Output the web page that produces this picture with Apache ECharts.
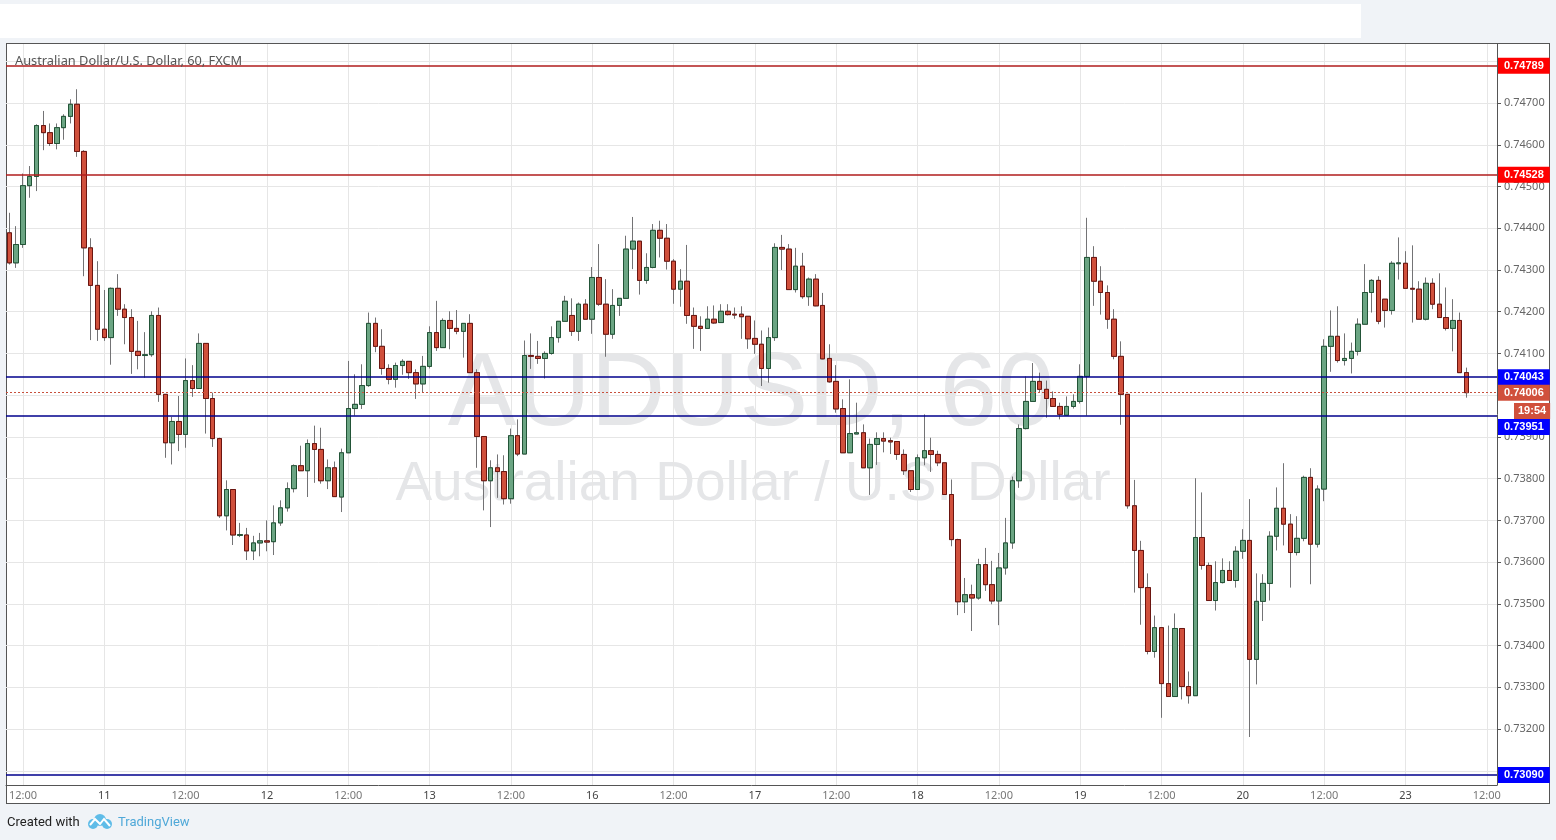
<!DOCTYPE html>
<html>
<head>
<meta charset="utf-8">
<title>AUDUSD 60</title>
<script src="https://cdn.jsdelivr.net/npm/echarts@6/dist/echarts.min.js"></script>
<style>
  html, body { margin: 0; padding: 0; background: #f0f3f7; overflow: hidden; }
  #strip { position: absolute; left: 0; top: 4px; width: 1361px; height: 34px; background: #fff; }
  #frame { position: absolute; left: 6px; top: 43px; width: 1542px; height: 759px; background: #fff; border: 1px solid #555; }
  #chart { position: absolute; left: 0; top: 0; width: 1556px; height: 840px; }
</style>
</head>
<body>
<div id="strip"></div>
<div id="frame"></div>
<div id="chart"></div>
<script>
// prices in 1/100000 of a dollar, one entry per hourly candle
const opens = [
  74389,74317,74361,74502,74524,74646,74629,74603,74641,74668,74697,74584,
  74353,74263,74158,74138,74256,74206,74186,74105,74095,74097,74191,74002,
  73886,73937,73906,74035,74016,74124,73992,73896,73711,73774,73664,73665,
  73627,73646,73651,73649,73694,73730,73776,73831,73819,73884,73870,73795,
  73826,73756,73862,73968,73978,74023,74172,74117,74064,74038,74071,74081,
  74054,74027,74069,74150,74114,74179,74160,74153,74172,74054,73901,73795,
  73826,73817,73752,73903,73859,74095,74093,74088,74100,74138,74177,74191,
  74153,74218,74182,74282,74218,74146,74215,74232,74350,74369,74275,74306,
  74395,74376,74321,74254,74273,74191,74165,74160,74182,74174,74201,74194,
  74194,74189,74136,74122,74064,74138,74354,74350,74253,74309,74236,74278,
  74215,74088,74033,73968,73862,73907,73910,73826,73882,73896,73891,73889,
  73858,73819,73774,73850,73867,73858,73838,73762,73654,73505,73522,73514,
  73594,73546,73507,73586,73646,73795,73920,73985,74033,74014,73992,73973,
  73952,73973,73985,74045,74330,74273,74246,74182,74093,74002,73735,73628,
  73539,73386,73443,73309,73278,73441,73302,73280,73659,73592,73508,73551,
  73580,73556,73626,73652,73367,73506,73549,73662,73729,73691,73623,73657,
  73803,73643,73775,74117,74141,74083,74088,74105,74170,74246,74275,74230,
  74203,74315,74316,74256,74254,74182,74268,74218,74186,74160,74179,74054
];
const closes = [
  74317,74361,74502,74524,74646,74629,74603,74641,74668,74697,74584,74353,
  74263,74158,74138,74256,74206,74186,74105,74095,74097,74191,74002,73886,
  73937,73906,74035,74016,74124,73992,73896,73711,73774,73665,73666,73627,
  73646,73651,73648,73694,73730,73776,73831,73819,73884,73870,73795,73826,
  73757,73862,73968,73978,74023,74172,74117,74064,74038,74071,74081,74054,
  74027,74069,74150,74114,74179,74160,74153,74172,74054,73901,73795,73826,
  73817,73752,73903,73859,74095,74093,74088,74100,74138,74177,74225,74153,
  74218,74182,74282,74218,74146,74215,74232,74350,74369,74275,74306,74395,
  74376,74321,74254,74273,74191,74165,74160,74182,74173,74201,74193,74192,
  74188,74135,74122,74064,74138,74354,74350,74253,74309,74236,74278,74214,
  74087,74032,73967,73862,73908,73910,73826,73882,73896,73890,73888,73858,
  73819,73774,73850,73867,73858,73838,73762,73654,73505,73522,73514,73594,
  73546,73507,73586,73646,73795,73920,73985,74033,74014,73992,73973,73954,
  73973,73985,74045,74330,74273,74246,74182,74093,74002,73735,73628,73539,
  73386,73443,73309,73278,73441,73302,73280,73659,73592,73508,73551,73580,
  73556,73626,73652,73367,73506,73549,73662,73729,73691,73623,73657,73803,
  73643,73775,74117,74141,74083,74088,74105,74170,74246,74275,74177,74203,
  74316,74317,74256,74254,74182,74268,74218,74186,74160,74179,74054,74006
];
const lows = [
  74313,74305,74353,74473,74489,74587,74597,74589,74612,74651,74571,74285,
  74132,74130,74130,74073,74190,74122,74051,74062,74042,74092,73984,73850,
  73834,73866,73874,73996,74016,73908,73876,73706,73676,73641,73660,73605,
  73605,73614,73626,73617,73687,73721,73767,73819,73756,73790,73788,73775,
  73757,73720,73862,73951,73967,74020,74103,74049,74026,74018,74049,74039,
  73991,74006,74064,74106,74114,74110,74146,74090,74054,73826,73724,73684,
  73754,73738,73740,73854,73859,74063,74075,74040,74097,74126,74177,74142,
  74130,74182,74147,74214,74092,74135,74190,74232,74302,74241,74267,74304,
  74330,74301,74219,74212,74171,74111,74106,74160,74171,74174,74191,74183,
  74135,74111,74099,74022,74030,74130,74300,74253,74246,74231,74214,74213,
  74086,74030,73958,73862,73862,73907,73826,73761,73833,73863,73859,73845,
  73809,73768,73774,73832,73816,73830,73762,73638,73473,73478,73435,73510,
  73531,73499,73449,73570,73632,73778,73918,73985,74006,73946,73973,73942,
  73952,73968,73980,73951,74214,74193,74159,74086,73929,73728,73527,73450,
  73379,73371,73227,73278,73278,73271,73261,73280,73582,73508,73484,73549,
  73556,73539,73608,73181,73307,73459,73508,73628,73640,73539,73616,73650,
  73547,73635,73746,74056,74078,74071,74052,74095,74170,74198,74170,74162,
  74193,74277,74256,74174,74182,74179,74206,74186,74155,74105,74054,73994
];
const highs = [
  74437,74405,74531,74549,74649,74681,74651,74651,74673,74709,74733,74587,
  74376,74321,74252,74258,74290,74218,74206,74178,74151,74201,74210,74002,
  73948,73998,74088,74072,74148,74124,74006,73898,73796,73774,73694,73682,
  73663,73670,73700,73736,73748,73791,73834,73879,73894,73927,73922,73846,
  73841,73872,74082,74050,74074,74198,74186,74158,74074,74078,74086,74081,
  74062,74094,74165,74226,74184,74201,74204,74172,74194,74062,73901,73844,
  73858,73856,73920,73942,74131,74148,74130,74105,74165,74177,74238,74232,
  74222,74230,74307,74362,74278,74254,74232,74382,74427,74369,74340,74410,
  74418,74410,74326,74302,74360,74210,74189,74213,74215,74218,74218,74210,
  74213,74189,74179,74155,74162,74364,74384,74362,74353,74341,74282,74290,
  74245,74122,74072,73990,74038,73982,73930,73896,73911,73911,73898,73889,
  73870,73819,73858,73954,73898,73867,73838,73798,73656,73562,73546,73608,
  73634,73603,73622,73706,73805,73930,74045,74077,74054,74035,74009,73982,
  73997,74002,74074,74425,74357,74309,74263,74206,74129,74002,73797,73651,
  73573,73472,73443,73448,73477,73441,73338,73801,73767,73599,73602,73609,
  73602,73638,73679,73751,73573,73571,73674,73779,73837,73715,73710,73807,
  73825,73784,74134,74203,74213,74148,74126,74184,74314,74278,74285,74230,
  74321,74378,74345,74359,74273,74282,74280,74292,74258,74230,74198,74066
];

const slotCount = 220;              // candles plus the empty slots on the right
const firstTickSlot = 2;
const tickEvery = 12;
const dateTicks = ["12:00","11","12:00","12","12:00","13","12:00","16","12:00","17",
  "12:00","18","12:00","19","12:00","20","12:00","23","12:00"];
const priceTicks = [0.731,0.732,0.733,0.734,0.735,0.736,0.737,0.738,0.739,0.74,
  0.741,0.742,0.743,0.744,0.745,0.746,0.747,0.748];
// 0.731 and 0.748 have a grid line but their labels are under the level tags
const priceLabels = priceTicks.slice(1, -1);

const redLevels = [0.74789, 0.74528];
const blueLevels = [0.74043, 0.73951, 0.7309];
const lastPrice = 0.74006;
const countdown = "19:54";
// the 0.73951 tag and the countdown sit below their lines so nothing overlaps
const shiftedBlueTagAt = 0.73924;
const countdownAt = 0.73962;

const RED = "#d0503c", RED_EDGE = "#6b1510";
const GREEN = "#6ba583", GREEN_EDGE = "#225437";
const font = "'Noto Sans', sans-serif";

const categories = [];
for (let i = 0; i < slotCount; i++) {
  const k = (i - firstTickSlot) / tickEvery;
  categories.push(Number.isInteger(k) && dateTicks[k] ? dateTicks[k] : "");
}
const isTick = (i) => (i - firstTickSlot) % tickEvery === 0;

const fullCandles = opens.map((o, i) => [o / 1e5, closes[i] / 1e5, lows[i] / 1e5, highs[i] / 1e5]);
const bodyOnly = opens.map((o, i) => {
  const c = closes[i];
  return [o / 1e5, c / 1e5, Math.min(o, c) / 1e5, Math.max(o, c) / 1e5];
});

// one empty line series per level, it only carries the markLine
function levelSeries(value, lineStyle, tag) {
  return {
    type: "line",
    data: [],
    z: 1,
    markLine: {
      silent: true,
      symbol: "none",
      animation: false,
      precision: 6,
      lineStyle: lineStyle,
      label: tag ? {
        show: true,
        position: "end",
        distance: tag.distance || 1,
        formatter: tag.text,
        color: "#fff",
        fontFamily: "'Liberation Sans'",
        fontSize: 11,
        fontWeight: "bold",
        lineHeight: 12,
        backgroundColor: tag.bg,
        padding: tag.padding || [2, 6],
        align: "left",
      } : { show: false },
      data: [{ yAxis: value }],
    },
  };
}

const hidden = { color: "transparent", width: 0 };
const redLine = { color: "#b01c1c", width: 1.5, type: "solid" };
const blueLine = { color: "#00008c", width: 1.5, type: "solid" };
const levels = [
  ...redLevels.map((v) => levelSeries(v, redLine, { text: v.toFixed(5), bg: "#ff0000" })),
  levelSeries(blueLevels[0], blueLine, { text: blueLevels[0].toFixed(5), bg: "#0000ff" }),
  levelSeries(blueLevels[1], blueLine, null),
  levelSeries(shiftedBlueTagAt, hidden, { text: blueLevels[1].toFixed(5), bg: "#0000ff" }),
  levelSeries(blueLevels[2], blueLine, { text: blueLevels[2].toFixed(5), bg: "#0000ff" }),
  levelSeries(lastPrice, { color: "#c8503c", width: 1, type: [2, 2] }, { text: lastPrice.toFixed(5), bg: RED }),
  levelSeries(countdownAt, hidden, { text: countdown, bg: RED, distance: 17, padding: [2, 4] }),
];

const chart = echarts.init(document.getElementById("chart"), null, { renderer: "canvas" });

chart.setOption({
  animation: false,
  backgroundColor: "transparent",
  grid: { left: 6, right: 59, top: 44, bottom: 55, containLabel: false },
  xAxis: {
    type: "category",
    data: categories,
    boundaryGap: true,
    axisLine: { lineStyle: { color: "#555" } },
    axisTick: { alignWithLabel: true, interval: isTick, length: 4, lineStyle: { color: "#555" } },
    axisLabel: {
      interval: isTick,
      color: (v) => (v === "12:00" ? "#777" : "#444"),
      fontFamily: font,
      fontSize: 11,
      margin: 5,
    },
    splitLine: { show: true, alignWithLabel: true, interval: isTick, lineStyle: { color: "#e6e6e6" } },
  },
  yAxis: {
    type: "value",
    position: "right",
    min: 0.73066,
    max: 0.748414,
    axisLine: { show: true, lineStyle: { color: "#555" } },
    axisTick: { show: true, length: 4, lineStyle: { color: "#555" }, customValues: priceTicks },
    axisLabel: {
      color: "#666",
      fontFamily: font,
      fontSize: 11,
      margin: 7,
      padding: [2, 0, 0, 0],
      customValues: priceLabels,
      formatter: (v) => v.toFixed(5),
    },
    splitLine: { show: true, lineStyle: { color: "#e6e6e6" } },
  },
  graphic: [
    { type: "text", silent: true, z: 0, style: { x: 751, y: 397, text: "AUDUSD, 60", align: "center", verticalAlign: "middle",
      font: "103px 'Liberation Sans'", fill: "#e5e6e8" } },
    { type: "text", silent: true, z: 0, style: { x: 753, y: 485, text: "Australian Dollar / U.S. Dollar", align: "center", verticalAlign: "middle",
      font: "55px 'Liberation Sans'", fill: "#e5e6e8" } },
    { type: "text", silent: true, z: 10, style: { x: 15, y: 61, text: "Australian Dollar/U.S. Dollar, 60, FXCM", verticalAlign: "middle",
      font: "12.8px " + font, fill: "#555" } },
    { type: "text", silent: true, style: { x: 7, y: 823, text: "Created with", verticalAlign: "middle", font: "13px Roboto", fill: "#222" } },
    { type: "text", silent: true, style: { x: 118, y: 823, text: "TradingView", verticalAlign: "middle", font: "13px Roboto", fill: "#4fa8d8" } },
    // cloud logo
    { type: "circle", silent: true, shape: { cx: 93, cy: 824, r: 5 }, style: { fill: "#5fbce8" } },
    { type: "circle", silent: true, shape: { cx: 100, cy: 820, r: 6 }, style: { fill: "#5fbce8" } },
    { type: "circle", silent: true, shape: { cx: 107, cy: 824, r: 5 }, style: { fill: "#5fbce8" } },
    { type: "polyline", silent: true, shape: { points: [[90, 825], [95, 819], [100, 824], [104, 819], [110, 826]] },
      style: { fill: "none", stroke: "#fff", lineWidth: 2 } },
  ],
  series: [
    ...levels,
    {
      // gray wicks underneath
      name: "wicks",
      type: "candlestick",
      data: fullCandles,
      z: 2,
      barWidth: 5,
      itemStyle: { color: GREEN, color0: RED, borderColor: "#737375", borderColor0: "#737375", borderWidth: 1 },
    },
    {
      // bodies on top, with the dark edge
      name: "bodies",
      type: "candlestick",
      data: bodyOnly,
      z: 3,
      barWidth: 5,
      itemStyle: { color: GREEN, color0: RED, borderColor: GREEN_EDGE, borderColor0: RED_EDGE, borderWidth: 1 },
    },
  ],
});
</script>
</body>
</html>
